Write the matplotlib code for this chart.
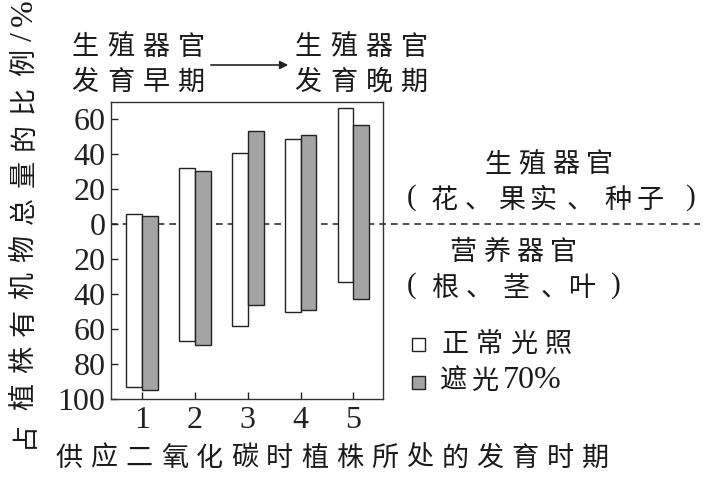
import matplotlib
matplotlib.use("Agg")
import matplotlib.pyplot as plt
from matplotlib.patches import FancyArrowPatch, Rectangle
from matplotlib.ticker import FuncFormatter

stages = [1, 2, 3, 4, 5]
normal_repro = [6, 32, 41, 49, 66.5]
normal_veg = [-93, -67, -58.5, -50, -33]
shade_repro = [5, 30.5, 53.5, 51, 57]
shade_veg = [-95, -69, -46, -49, -43]
yticks = [-100, -80, -60, -40, -20, 0, 20, 40, 60]

SERIF = ['Liberation Serif', 'DejaVu Serif']
CJK = ['Noto Sans CJK SC', 'DejaVu Sans']
plt.rcParams['font.family'] = SERIF

W, H = 704, 478
fig = plt.figure(figsize=(W / 100, H / 100), dpi=100)
ax = fig.add_axes([111 / W, 1 - 399 / H, 272 / W, 297 / H])

w = 0.3
xs_w = [s - w / 2 for s in stages]
xs_g = [s + w / 2 for s in stages]
hw = [t - b for t, b in zip(normal_repro, normal_veg)]
hg = [t - b for t, b in zip(shade_repro, shade_veg)]
ax.bar(xs_w, hw, bottom=normal_veg, width=w, facecolor='white', edgecolor='#222222', linewidth=1.0, zorder=3)
ax.bar(xs_g, hg, bottom=shade_veg, width=w, facecolor='#a4a4a4', edgecolor='#222222', linewidth=1.0, zorder=3)

ax.plot([0, 2.165], [0, 0], transform=ax.get_yaxis_transform(), clip_on=False,
        color='#333333', linewidth=1.2, linestyle=(0, (4, 3)), zorder=1)

ax.set_xlim(0.41, 5.56)
ax.set_ylim(-100, 70)
ax.set_xticks(stages)
ax.set_yticks(yticks)
ax.yaxis.set_major_formatter(FuncFormatter(lambda v, p: f"{abs(int(round(v)))}"))
ax.tick_params(direction='in', length=5, width=1, labelsize=23, pad=4, colors='#222222')
ax.tick_params(axis='x', pad=5)
for lab in ax.get_xticklabels() + ax.get_yticklabels():
    lab.set_fontfamily(SERIF)
for sp in ax.spines.values():
    sp.set_linewidth(1.0)
    sp.set_color('#333333')

tc = '#1a1a1a'
FS = 19.5


def put(ch, x, y, fam=CJK, size=FS, rot=0):
    fig.text(x / W, 1 - y / H, ch, ha='center', va='center', fontsize=size,
             family=fam, color=tc, rotation=rot)


def row(s, x0, y, pitch, size=FS):
    for i, ch in enumerate(s):
        put(ch, x0 + i * pitch, y, size=size)


# x label
row("供应二氧化碳时植株所处的发育时期", 69, 458, 35.1)
# y label (vertical)
for i, ch in enumerate("占植株有机物总量的比例"):
    put(ch, 24, 434 - i * 37.2, rot=90)
put("/", 24, 37, fam=SERIF, size=23, rot=90)
put("%", 24, 13, fam=SERIF, size=23, rot=90)

# top annotation
row("生殖器官", 85, 47, 35.5)
row("发育早期", 85, 82, 35.5)
row("生殖器官", 308, 47, 35.5)
row("发育晚期", 308, 82, 35.5)
fig.add_artist(FancyArrowPatch((208 / W, 1 - 65 / H), (291 / W, 1 - 65 / H),
               transform=fig.transFigure, arrowstyle='-|>', mutation_scale=12,
               color='#222222', linewidth=1.2))

# right side labels
row("生殖器官", 498, 165, 34)
put("(", 412, 198, fam=SERIF, size=21)
for ch, x in [("花", 444), ("、", 478), ("果", 512), ("实", 543), ("、", 580), ("种", 618), ("子", 650)]:
    put(ch, x, 200)
put(")", 691, 198, fam=SERIF, size=21)

row("营养器官", 463, 252, 33.5)
put("(", 412, 286, fam=SERIF, size=21)
for ch, x in [("根", 445), ("、", 479), ("茎", 516), ("、", 554), ("叶", 583)]:
    put(ch, x, 288)
put(")", 616, 286, fam=SERIF, size=21)

# legend
fig.add_artist(Rectangle((412 / W, 1 - 351 / H), 13 / W, 13 / H, transform=fig.transFigure,
               facecolor='white', edgecolor='#222222', linewidth=1.0))
fig.add_artist(Rectangle((412 / W, 1 - 389 / H), 13 / W, 13 / H, transform=fig.transFigure,
               facecolor='#a4a4a4', edgecolor='#222222', linewidth=1.0))
row("正常光照", 455, 344, 34.5)
row("遮光", 454, 381, 31)
fig.text(503 / W, 1 - 381 / H, "70%", ha='left', va='center', fontsize=23, family=SERIF, color=tc)

fig.savefig("out.png", dpi=100)
